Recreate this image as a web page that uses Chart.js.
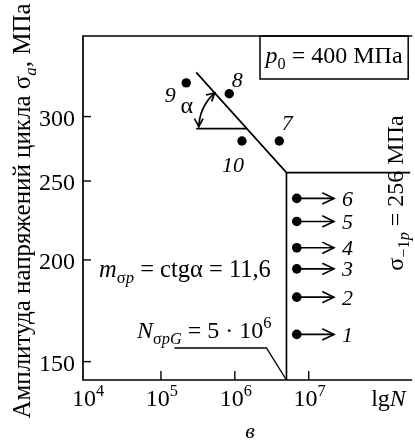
<!DOCTYPE html>
<html>
<head>
<meta charset="utf-8">
<script src="https://cdn.jsdelivr.net/npm/chart.js@4.4.1/dist/chart.umd.min.js"></script>
<style>
  html, body { margin: 0; padding: 0; background: #fff; }
  canvas { display: block; }
</style>
</head>
<body>
<canvas id="c" width="415" height="441"></canvas>
<script>
// Fatigue test results: number of cycles N vs stress amplitude σa, MPa

// Specimens that failed
const brokenLabels = ['7', '8', '9', '10'];
const brokenN = [4.0e6, 8.4e5, 2.2e5, 1.25e6];
const brokenSigma = [280, 320, 330, 280];

// Specimens that survived the base number of cycles (run-outs)
const runoutLabels = ['1', '2', '3', '4', '5', '6'];
const runoutSigma = [162, 180, 195, 207, 223, 238];
const runoutN = 6.9e6;
const runoutArrowN = 2.2e7;

// S-N curve: sloped branch down to the knee, then the endurance limit
const curveN = [3.0e5, 5e6, 3e8];
const curveSigma = [340, 256, 256];
const kneeN = 5e6;
const enduranceLimit = 256;
const alphaSigma = 290;   // level of the horizontal leg of angle α

// Axes
const xTicks = [1e4, 1e5, 1e6, 1e7];
const xTickExp = ['4', '5', '6', '7'];
const yTicks = [150, 200, 250, 300];
const xMin = Math.pow(10, 3.945), xMax = Math.pow(10, 8.374);
const yMin = 142.4, yMax = 376.8;

// where the horizontal leg of α meets the sloped branch (log-log interpolation)
const L10 = Math.log10;
const tA = (L10(curveSigma[0]) - L10(alphaSigma)) / (L10(curveSigma[0]) - L10(curveSigma[1]));
const alphaN = Math.pow(10, L10(curveN[0]) + tA * (L10(curveN[1]) - L10(curveN[0])));

const FONT = '"Liberation Serif", "Times New Roman", serif';
const fontStr = (size, italic) => (italic ? 'italic ' : '') + size + 'px ' + FONT;

// text made of runs: {t, i: italic, s: 'sub' | 'sup'}
function drawRich(c, parts, x, y, size, align) {
  const items = [];
  let w = 0;
  for (const p of parts) {
    const s = p.s ? size * 0.68 : size;
    c.font = fontStr(s, p.i);
    const pw = c.measureText(p.t).width;
    items.push({ p, s, x: w });
    w += pw;
  }
  const x0 = align === 'center' ? x - w / 2 : align === 'right' ? x - w : x;
  c.textAlign = 'left';
  c.textBaseline = 'alphabetic';
  for (const it of items) {
    c.font = fontStr(it.s, it.p.i);
    let dy = 0;
    if (it.p.s === 'sub') dy = size * 0.25;
    if (it.p.s === 'sup') dy = -size * 0.42;
    c.fillText(it.p.t, x0 + it.x, y + dy);
  }
  return w;
}

function arrowHead(c, x, y, dx, dy, len, spread) {
  const ang = Math.atan2(dy, dx);
  c.beginPath();
  c.moveTo(x - len * Math.cos(ang - spread), y - len * Math.sin(ang - spread));
  c.lineTo(x, y);
  c.lineTo(x - len * Math.cos(ang + spread), y - len * Math.sin(ang + spread));
  c.stroke();
}

const pts = (xs, ys) => xs.map((x, i) => ({ x, y: ys[i] }));
const lineDs = (data, w) => ({
  data, showLine: true, borderColor: '#000', borderWidth: w || 1.7,
  pointRadius: 0, fill: false, tension: 0
});

// offsets of the specimen numbers from their points (px)
const brokenLabelOffset = { '7': [8, -18], '8': [8, -14], '9': [-16, 12], '10': [-9, 24] };

const overlay = {
  id: 'overlay',
  beforeDraw(chart) {
    const c = chart.ctx;
    c.save();
    c.fillStyle = '#fff';
    c.fillRect(0, 0, chart.width, chart.height);
    c.restore();
  },
  afterDraw(chart) {
    const c = chart.ctx, a = chart.chartArea;
    const xs = chart.scales.x, ys = chart.scales.y;
    c.save();
    c.strokeStyle = '#000';
    c.fillStyle = '#000';

    // frame
    c.lineWidth = 1.7;
    c.beginPath();
    c.moveTo(a.right + 2, a.top);
    c.lineTo(a.left, a.top);
    c.lineTo(a.left, a.bottom);
    c.lineTo(a.right + 2, a.bottom);
    c.stroke();

    // inward ticks and labels, x axis
    c.lineWidth = 1.4;
    xTicks.forEach((v, i) => {
      const px = xs.getPixelForValue(v);
      if (px - a.left > 6) {
        c.beginPath();
        c.moveTo(px, a.bottom);
        c.lineTo(px, a.bottom - 9);
        c.stroke();
      }
      drawRich(c, [{ t: '10' }, { t: xTickExp[i], s: 'sup' }], px + 1, a.bottom + 26, 24, 'center');
    });
    drawRich(c, [{ t: 'lg' }, { t: 'N', i: 1 }], a.right - 39, a.bottom + 26, 24, 'left');

    // inward ticks and labels, y axis
    yTicks.forEach(v => {
      const py = ys.getPixelForValue(v);
      c.beginPath();
      c.moveTo(a.left, py);
      c.lineTo(a.left + 8, py);
      c.stroke();
      drawRich(c, [{ t: String(v) }], a.left - 8, py + 9, 24, 'right');
    });

    // y axis title
    c.save();
    c.translate(30, 211);
    c.rotate(-Math.PI / 2);
    drawRich(c, [{ t: 'Амплитуда напряжений цикла σ' }, { t: 'a', i: 1, s: 'sub' }, { t: ', МПа' }], 0, 0, 25, 'center');
    c.restore();

    // endurance limit label
    c.save();
    c.translate(403, 193);
    c.rotate(-Math.PI / 2);
    drawRich(c, [{ t: 'σ' }, { t: '−1', s: 'sub' }, { t: 'p', i: 1, s: 'sub' }, { t: ' = 256 МПа' }], 0, 0, 24, 'center');
    c.restore();

    // p0 box
    const bx0 = 260, bx1 = a.right - 2, by0 = a.top, by1 = a.top + 43;
    c.lineWidth = 1.5;
    c.strokeRect(bx0, by0, bx1 - bx0, by1 - by0);
    drawRich(c, [{ t: 'p', i: 1 }, { t: '0', s: 'sub' }, { t: ' = 400 МПа' }], (bx0 + bx1) / 2, by0 + 27, 24, 'center');

    // slope label
    drawRich(c, [{ t: 'm', i: 1 }, { t: 'σ', s: 'sub' }, { t: 'p', i: 1, s: 'sub' }, { t: ' = ctgα = 11,6' }], a.left + 16, 277, 24.5, 'left');

    // knee label with leader line
    const kx = xs.getPixelForValue(kneeN);
    c.lineWidth = 1.4;
    c.beginPath();
    c.moveTo(kx - 112, a.bottom - 32);
    c.lineTo(kx - 20, a.bottom - 32);
    c.lineTo(kx, a.bottom);
    c.stroke();
    drawRich(c, [{ t: 'N', i: 1 }, { t: 'σ', s: 'sub' }, { t: 'pG', i: 1, s: 'sub' }, { t: ' = 5 · 10' }, { t: '6', s: 'sup' }],
      kx - 15, a.bottom - 42, 24, 'right');

    // angle α: arc with arrowheads between the horizontal leg and the curve
    const cx = xs.getPixelForValue(alphaN), cy = ys.getPixelForValue(alphaSigma);
    const sx = xs.getPixelForValue(curveN[0]), sy = ys.getPixelForValue(curveSigma[0]);
    let a2 = Math.atan2(sy - cy, sx - cx);
    if (a2 < 0) a2 += 2 * Math.PI;
    const r = 48, a1 = Math.PI;
    c.lineWidth = 1.7;
    c.beginPath();
    c.arc(cx, cy, r, a1 + 0.02, a2 - 0.02, false);
    c.stroke();
    arrowHead(c, cx + r * Math.cos(a1), cy + r * Math.sin(a1) - 2, Math.sin(a1), -Math.cos(a1), 9, 0.5);
    arrowHead(c, cx + r * Math.cos(a2), cy + r * Math.sin(a2), -Math.sin(a2), Math.cos(a2), 9, 0.5);
    c.font = fontStr(24, false);
    c.textAlign = 'center';
    c.textBaseline = 'alphabetic';
    c.fillText('α', cx - 60, cy - 16);

    // run-out arrows and numbers
    c.lineWidth = 1.6;
    runoutSigma.forEach((s, i) => {
      const tx = xs.getPixelForValue(runoutArrowN), ty = ys.getPixelForValue(s);
      arrowHead(c, tx, ty, 1, 0, 13, 0.45);
      c.font = fontStr(22, true);
      c.textAlign = 'left';
      c.fillText(runoutLabels[i], tx + 8, ty + 7.5);
    });

    // numbers of failed specimens
    brokenLabels.forEach((lab, i) => {
      const px = xs.getPixelForValue(brokenN[i]), py = ys.getPixelForValue(brokenSigma[i]);
      const o = brokenLabelOffset[lab];
      c.font = fontStr(22, true);
      c.textAlign = 'center';
      c.fillText(lab, px + o[0], py + o[1] + 7.5);
    });

    // panel letter
    c.font = fontStr(22, true);
    c.textAlign = 'center';
    c.fillText('в', 250, 438);

    c.restore();
  }
};

const datasets = [
  lineDs(pts(curveN, curveSigma)),
  lineDs([{ x: kneeN, y: enduranceLimit }, { x: kneeN, y: yMin }]),
  lineDs([{ x: curveN[0], y: alphaSigma }, { x: alphaN, y: alphaSigma }]),
  ...runoutSigma.map(s => lineDs([{ x: runoutN, y: s }, { x: runoutArrowN, y: s }], 1.6)),
  {
    data: pts(runoutSigma.map(() => runoutN), runoutSigma),
    showLine: false, pointRadius: 4.8, pointBackgroundColor: '#000', pointBorderColor: '#000', pointBorderWidth: 0
  },
  {
    data: pts(brokenN, brokenSigma),
    showLine: false, pointRadius: 4.7, pointBackgroundColor: '#000', pointBorderColor: '#000', pointBorderWidth: 0
  }
];

new Chart(document.getElementById('c').getContext('2d'), {
  type: 'scatter',
  data: { datasets },
  options: {
    responsive: false,
    animation: false,
    devicePixelRatio: 1,
    layout: { padding: { left: 83, top: 36, right: 0, bottom: 61 } },
    plugins: { legend: { display: false }, tooltip: { enabled: false } },
    scales: {
      x: { type: 'logarithmic', min: xMin, max: xMax, bounds: 'data', display: false },
      y: { type: 'logarithmic', min: yMin, max: yMax, bounds: 'data', display: false }
    }
  },
  plugins: [overlay]
});
</script>
</body>
</html>
